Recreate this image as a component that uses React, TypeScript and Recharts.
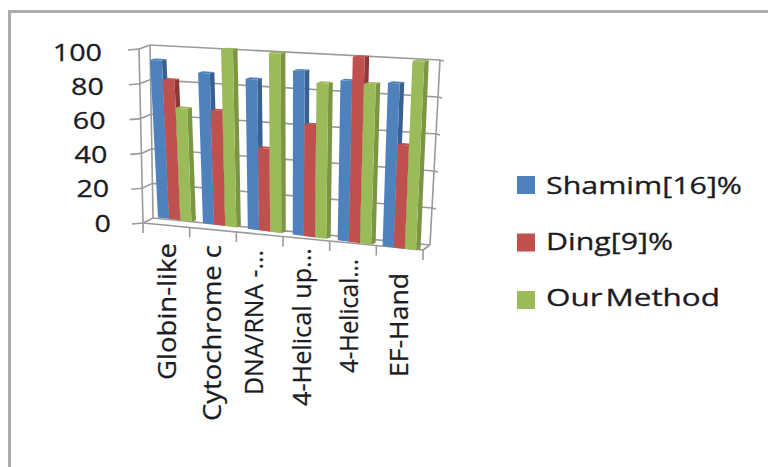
import { BarChart, Bar, XAxis, YAxis, CartesianGrid, Legend } from "recharts";

const categories = ["Globin-like", "Cytochrome c", "DNA/RNA -...", "4-Helical up...", "4-Helical...", "EF-Hand"];
const shamim = [92, 86, 84, 90, 86, 86];
const ding = [81, 65, 46, 61, 99, 54];
const ourMethod = [65, 100, 99, 84, 85, 98];
const valueTicks = [0, 20, 40, 60, 80, 100];

const COLORS = { shamim: "#4f81bd", ding: "#c0504d", our: "#9bbb59" };
const SIDE_COLORS: Record<string, string> = {
  "#4f81bd": "#38618f",
  "#c0504d": "#8e3836",
  "#9bbb59": "#7b9643",
};
const TEXT = "#1b1b24";
const WALL = "#9a9a9a";
const FONT = "'Open Sans', sans-serif";

// flat plot rectangle handed to recharts, bent into the 3D box below
const PLOT = { left: 140, top: 50, width: 290, height: 175 };
type Quad = { bl: number[]; br: number[]; tl: number[]; tr: number[] };
const BOX_FRONT: Quad = { bl: [143, 223], br: [423, 250], tl: [139, 49], tr: [433, 64] };
const BOX_BACK: Quad = { bl: [153, 218], br: [430, 245], tl: [150, 45], tr: [440, 60] };
// plane the column fronts stand on, slightly wider at the top
const COLUMN_PLANE: Quad = { bl: [151.7, 216.6], br: [421.2, 251], tl: [142.7, 46], tr: [430, 58] };
const COLUMN_DEPTH = [4.5, -1.5];

// u: 0..1 along the categories, v: 0..1 up the values
const lerp = (a: number, b: number, t: number) => a + (b - a) * t;
function onQuad(q: Quad, u: number, v: number): [number, number] {
  const at = (i: number) => lerp(lerp(q.bl[i], q.br[i], u), lerp(q.tl[i], q.tr[i], u), v);
  return [at(0), at(1)];
}
const toU = (x: number) => (x - PLOT.left) / PLOT.width;
const toV = (y: number) => (PLOT.top + PLOT.height - y) / PLOT.height;
const pts = (list: [number, number][]) => list.map((p) => p.join(",")).join(" ");
const deep = (p: [number, number]): [number, number] => [p[0] + COLUMN_DEPTH[0], p[1] + COLUMN_DEPTH[1]];

// one 3D column, from the rectangle recharts worked out for the value
function Column(props: any) {
  const { x, y, width, height, fill } = props;
  const u0 = toU(x);
  const u1 = toU(x + width);
  const v0 = toV(y + height);
  const v1 = toV(y);
  const bl = onQuad(COLUMN_PLANE, u0, v0);
  const br = onQuad(COLUMN_PLANE, u1, v0);
  const tl = onQuad(COLUMN_PLANE, u0, v1);
  const tr = onQuad(COLUMN_PLANE, u1, v1);
  return (
    <g>
      <polygon points={pts([br, deep(br), deep(tr), tr])} fill={SIDE_COLORS[fill]} />
      <polygon points={pts([tl, tr, deep(tr), deep(tl)])} fill={fill} />
      <polygon points={pts([bl, br, tr, tl])} fill={fill} />
    </g>
  );
}

function Seg({ a, b }: { a: number[]; b: number[] }) {
  return <line x1={a[0]} y1={a[1]} x2={b[0]} y2={b[1]} stroke={WALL} strokeWidth={1.6} />;
}

// value gridline wrapped around the left and back walls, with the outer ticks
function WallLine(props: any) {
  const v = toV(props.y1);
  const isFloor = Math.abs(v) < 0.001;
  const frontLeft = onQuad(BOX_FRONT, 0, v);
  const backLeft = onQuad(BOX_BACK, 0, v);
  const backRight = onQuad(BOX_BACK, 1, v);
  return (
    <g>
      <Seg a={[frontLeft[0] - 11, frontLeft[1] + 1]} b={frontLeft} />
      <Seg a={frontLeft} b={backLeft} />
      <Seg a={backLeft} b={backRight} />
      {!isFloor && <Seg a={backRight} b={[backRight[0] + 4, backRight[1] + 1]} />}
      {isFloor && (
        <>
          <Seg a={onQuad(BOX_FRONT, 0, 0)} b={onQuad(BOX_FRONT, 1, 0)} />
          <Seg a={onQuad(BOX_FRONT, 1, 0)} b={onQuad(BOX_BACK, 1, 0)} />
          <Seg a={onQuad(BOX_FRONT, 0, 0)} b={onQuad(BOX_FRONT, 0, 1)} />
          <Seg a={onQuad(BOX_BACK, 0, 0)} b={onQuad(BOX_BACK, 0, 1)} />
          <Seg a={onQuad(BOX_BACK, 1, 0)} b={onQuad(BOX_BACK, 1, 1)} />
        </>
      )}
    </g>
  );
}

function ValueTick(props: any) {
  const { y, payload } = props;
  const v = toV(y);
  const digits = String(payload.value).length;
  return (
    <text
      x={lerp(111, 102, v)}
      y={lerp(223, 52, v) + 8.5}
      textAnchor="end"
      fontFamily={FONT}
      fontSize={24}
      fill={TEXT}
      stroke={TEXT}
      strokeWidth={0.3}
      textLength={digits * 16.4}
      lengthAdjust="spacingAndGlyphs"
    >
      {payload.value}
    </text>
  );
}

// where each rotated label starts and how far it runs
const LABEL_TOP = [243, 245, 250, 248, 259, 273];
const LABEL_LENGTH = [137, 176, 145, 158, 114, 104];
const LABEL_X = [176, 221, 263, 311, 358, 408];

function CategoryTick(props: any) {
  const { x, index, payload } = props;
  const step = PLOT.width / categories.length;
  const mark = (u: number) => {
    const a = onQuad(BOX_FRONT, u, 0);
    return <Seg a={a} b={[a[0], a[1] + 10]} />;
  };
  return (
    <g>
      {mark(toU(x - step / 2))}
      {index === categories.length - 1 && mark(toU(x + step / 2))}
      <text
        transform={`translate(${LABEL_X[index]},${LABEL_TOP[index]}) rotate(-90)`}
        textAnchor="end"
        fontFamily={FONT}
        fontSize={25}
        fill={TEXT}
        stroke={TEXT}
        strokeWidth={0.25}
        textLength={LABEL_LENGTH[index]}
        lengthAdjust="spacingAndGlyphs"
      >
        {payload.value}
      </text>
    </g>
  );
}

const LEGEND_LENGTH = [196, 127, 174];

function LegendList({ payload }: any) {
  return (
    <svg width={251} height={150} style={{ display: "block" }}>
      {(payload ?? []).map((item: any, i: number) => (
        <g key={item.value} transform={`translate(0,${i * 57.5})`}>
          <rect x={0} y={1} width={18} height={18} fill={item.color} />
          <text
            x={29}
            y={19 - i * 1.5}
            fontFamily={FONT}
            fontSize={24}
            fill={TEXT}
            stroke={TEXT}
            strokeWidth={0.3}
            wordSpacing={-4}
            textLength={LEGEND_LENGTH[i]}
            lengthAdjust="spacingAndGlyphs"
          >
            {item.value}
          </text>
        </g>
      ))}
    </svg>
  );
}

const rows = categories.map((name, i) => ({
  name,
  shamim: shamim[i],
  ding: ding[i],
  our: ourMethod[i],
}));

export default function App() {
  return (
    <div style={{ position: "absolute", left: 0, top: 0, width: 768, height: 467, overflow: "hidden", background: "#fff" }}>
      <div style={{ position: "absolute", left: 8, top: 10, width: 790, height: 500, border: "3px solid #adadad" }} />
      <BarChart
        width={768}
        height={467}
        data={rows}
        margin={{ left: 0, top: PLOT.top, right: 768 - PLOT.left - PLOT.width, bottom: 467 - PLOT.top - PLOT.height - 30 }}
        barCategoryGap="14%"
        barGap={0}
        style={{ position: "absolute", left: 0, top: 0 }}
      >
        <CartesianGrid vertical={false} horizontal={(p: any) => <WallLine key={p.y1} {...p} />} />
        <XAxis dataKey="name" height={30} axisLine={false} tickLine={false} interval={0} tick={CategoryTick} />
        <YAxis type="number" domain={[0, 100]} ticks={valueTicks} axisLine={false} tickLine={false} width={PLOT.left} tick={ValueTick} />
        <Bar dataKey="shamim" name="Shamim[16]%" fill={COLORS.shamim} shape={Column} isAnimationActive={false} />
        <Bar dataKey="ding" name="Ding[9]%" fill={COLORS.ding} shape={Column} isAnimationActive={false} />
        <Bar dataKey="our" name="Our Method" fill={COLORS.our} shape={Column} isAnimationActive={false} />
        <Legend
          content={LegendList}
          layout="vertical"
          align="center"
          verticalAlign="middle"
          itemSorter={null}
          wrapperStyle={{ left: 517, top: 175, width: 251 }}
        />
      </BarChart>
    </div>
  );
}
